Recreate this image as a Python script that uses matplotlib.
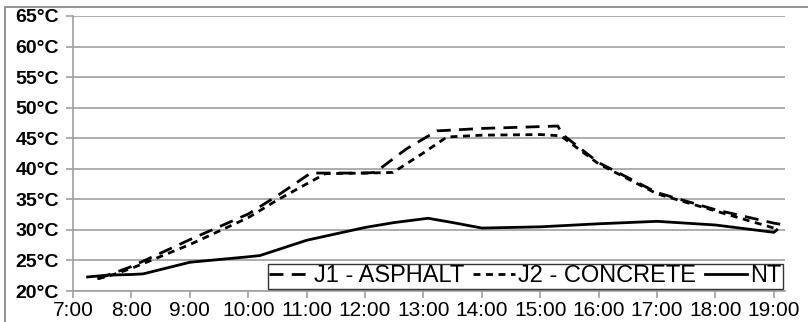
import numpy as np
import matplotlib.pyplot as plt
from matplotlib.patches import Rectangle

# time in hours (decimal), temperatures in degC
j1_time = [7.42, 7.6, 8.0, 9.0, 10.0, 10.5, 11.07, 12.0, 12.17, 12.7, 13.23, 14.0, 15.0, 15.3, 15.38, 16.0, 17.0, 18.0, 18.5, 19.0, 19.19]
j1_temp = [22.0, 22.6, 24.0, 28.4, 32.6, 35.6, 39.3, 39.3, 39.4, 43.2, 46.2, 46.6, 46.9, 47.0, 45.6, 41.0, 36.1, 33.3, 32.2, 31.1, 30.8]

j2_time = [7.42, 7.6, 8.0, 9.0, 10.0, 10.5, 11.32, 12.0, 12.48, 13.0, 13.4, 14.0, 15.0, 15.35, 16.0, 17.0, 18.0, 18.5, 19.0]
j2_temp = [22.0, 22.4, 23.7, 27.6, 32.0, 34.9, 39.2, 39.3, 39.4, 42.6, 45.2, 45.5, 45.6, 45.4, 40.8, 35.9, 33.1, 31.7, 30.3]

nt_time = [7.25, 7.6, 8.0, 8.2, 9.0, 10.0, 10.2, 11.0, 12.0, 12.5, 13.08, 13.5, 14.0, 15.0, 16.0, 17.0, 18.0, 18.5, 19.0, 19.05]
nt_temp = [22.3, 22.6, 22.7, 22.8, 24.7, 25.6, 25.8, 28.3, 30.4, 31.2, 31.9, 31.2, 30.3, 30.5, 31.0, 31.4, 30.8, 30.2, 29.6, 30.0]

hour_ticks = list(range(7, 20))
temp_ticks = list(range(20, 70, 5))

plt.rcParams['font.family'] = ['Liberation Sans', 'DejaVu Sans']

fig = plt.figure(figsize=(8.08, 3.22), dpi=100)
ax = fig.add_axes([73 / 808, 1 - 291 / 322, (785 - 73) / 808, (291 - 16) / 322])

# outer frame (only top and left visible in the crop)
fig.patches.append(Rectangle((5 / 808, -0.1), 1.2, 1 - 7 / 322 + 0.1,
                             transform=fig.transFigure, fill=False,
                             edgecolor='#808080', linewidth=1.2))

ax.plot(j1_time, j1_temp, color='black', linewidth=2, dashes=(5, 3), label='J1 - ASPHALT')
ax.plot(j2_time, j2_temp, color='black', linewidth=2, dashes=(2.5, 2), label='J2 - CONCRETE')
ax.plot(nt_time, nt_temp, color='black', linewidth=2, label='NT')

ax.set_xlim(7, 19.19)
ax.set_ylim(20, 65)
ax.set_xticks(hour_ticks)
ax.set_xticklabels([f'{h}:00' for h in hour_ticks], fontsize=15)
ax.set_yticks(temp_ticks)
ax.set_yticklabels([f'{t}°C' for t in temp_ticks], fontsize=14, fontweight='bold')

ax.grid(axis='y', color='#a0a0a0', linewidth=1.2)
ax.set_axisbelow(True)
for s in ['top', 'right']:
    ax.spines[s].set_visible(False)
for s in ['left', 'bottom']:
    ax.spines[s].set_color('#a0a0a0')
    ax.spines[s].set_linewidth(1.2)
ax.tick_params(axis='both', color='#a0a0a0', length=5, width=1.2)
ax.tick_params(axis='x', pad=2)
ax.tick_params(axis='y', pad=5)

leg = ax.legend(loc='lower right', ncol=3, fontsize=17, frameon=True, fancybox=False,
                edgecolor='black', handlelength=1.8, handletextpad=0.13, columnspacing=0.35,
                borderpad=0.05, borderaxespad=0.1, bbox_to_anchor=(1.0, 0.0))
leg.get_frame().set_linewidth(1.0)

fig.savefig('out.png', dpi=100)
